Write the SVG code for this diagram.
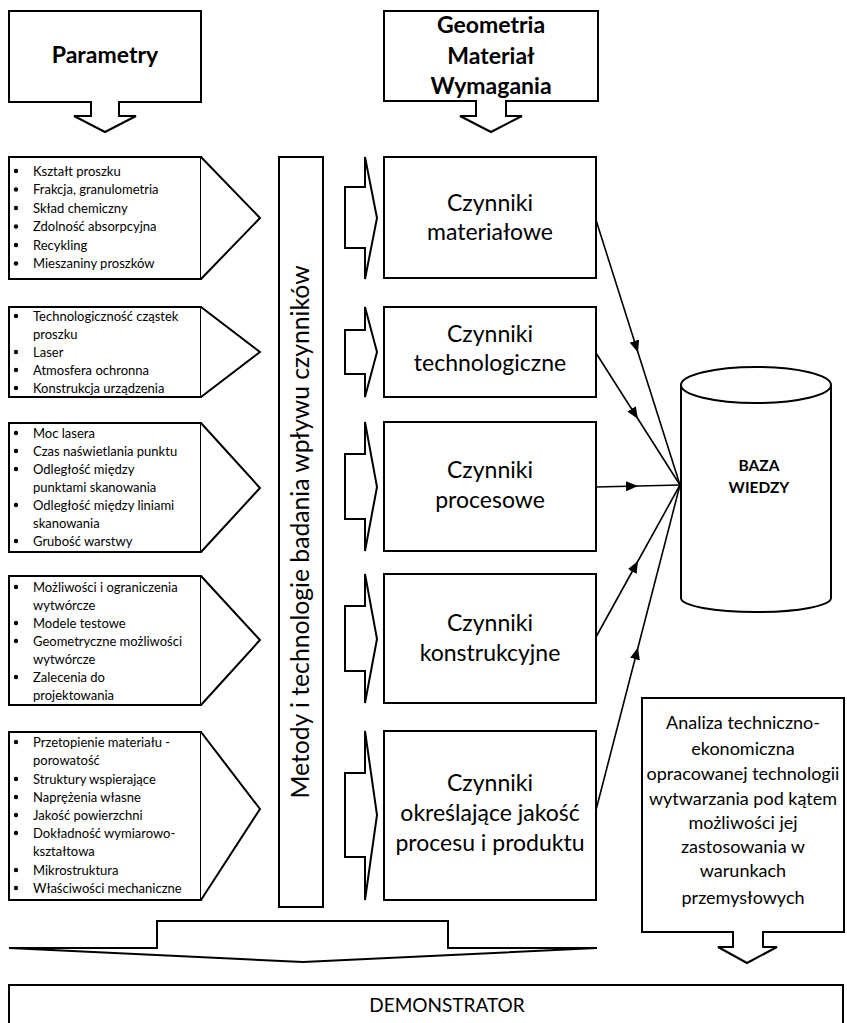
<svg xmlns="http://www.w3.org/2000/svg" width="847" height="1023" viewBox="0 0 847 1023">
<defs>
<marker id="ah" markerUnits="userSpaceOnUse" markerWidth="14" markerHeight="10" refX="12" refY="5" orient="auto"><path d="M0,0 L12,5 L0,10 z" fill="#000"/></marker>
</defs>
<style>
.s{fill:#fff;stroke:#000;stroke-width:2;stroke-linejoin:miter}
.b{font-family:Lato,"Noto Sans",sans-serif;font-size:13px;fill:#000}
.c{font-family:Lato,"Noto Sans",sans-serif;font-size:23px;text-anchor:middle;fill:#000}
.h{font-family:Lato,"Noto Sans",sans-serif;font-weight:bold;font-size:23px;text-anchor:middle;fill:#000}
.a{font-family:Lato,"Noto Sans",sans-serif;font-size:18px;text-anchor:middle;fill:#000}
.cn{fill:none;stroke:#000;stroke-width:1.6}
.d{fill:#000}
</style>
<rect width="847" height="1023" fill="#fff"/>

<g id="parametry">
<polygon class="s" points="9,11 201,11 201,102 119,102 119,116 136,116 105,132 74,116 91,116 91,102 9,102"/>
<text class="h" x="105" y="63">Parametry</text>
</g>

<g id="geometria">
<polygon class="s" points="384,11 598,11 598,101 506,101 506,116 522,116 491,132 460,116 476,116 476,101 384,101"/>
<text class="h" x="491" y="33">Geometria</text>
<text class="h" x="491" y="64">Materiał</text>
<text class="h" x="491" y="94">Wymagania</text>
</g>

<g id="lista1">
<rect class="s" x="9" y="157" width="192" height="122"/>
<polyline class="s" points="201,157 260,218 201,279"/>
<g class="b">
<circle class="d" cx="16" cy="171" r="2.2"/><text x="33" y="175.5">Kształt proszku</text>
<circle class="d" cx="16" cy="189.5" r="2.2"/><text x="33" y="194">Frakcja, granulometria</text>
<circle class="d" cx="16" cy="208" r="2.2"/><text x="33" y="212.5">Skład chemiczny</text>
<circle class="d" cx="16" cy="226.5" r="2.2"/><text x="33" y="231">Zdolność absorpcyjna</text>
<circle class="d" cx="16" cy="245" r="2.2"/><text x="33" y="249.5">Recykling</text>
<circle class="d" cx="16" cy="263.5" r="2.2"/><text x="33" y="268">Mieszaniny proszków</text>
</g>
</g>

<g id="lista2">
<rect class="s" x="9" y="307" width="192" height="90"/>
<polyline class="s" points="201,307 260,352 201,397"/>
<g class="b">
<circle class="d" cx="16" cy="316" r="2.2"/><text x="33" y="320.5">Technologiczność cząstek</text>
<text x="33" y="338.5">proszku</text>
<circle class="d" cx="16" cy="352" r="2.2"/><text x="33" y="356.5">Laser</text>
<circle class="d" cx="16" cy="370" r="2.2"/><text x="33" y="374.5">Atmosfera ochronna</text>
<circle class="d" cx="16" cy="388" r="2.2"/><text x="33" y="392.5">Konstrukcja urządzenia</text>
</g>
</g>

<g id="lista3">
<rect class="s" x="9" y="423" width="192" height="129"/>
<polyline class="s" points="201,423 260,488 201,552"/>
<g class="b">
<circle class="d" cx="16" cy="433" r="2.2"/><text x="33" y="437.5">Moc lasera</text>
<circle class="d" cx="16" cy="451" r="2.2"/><text x="33" y="455.5">Czas naświetlania punktu</text>
<circle class="d" cx="16" cy="469" r="2.2"/><text x="33" y="473.5">Odległość między</text>
<text x="33" y="491.5">punktami skanowania</text>
<circle class="d" cx="16" cy="505" r="2.2"/><text x="33" y="509.5">Odległość między liniami</text>
<text x="33" y="527.5">skanowania</text>
<circle class="d" cx="16" cy="541" r="2.2"/><text x="33" y="545.5">Grubość warstwy</text>
</g>
</g>

<g id="lista4">
<rect class="s" x="9" y="576" width="192" height="129"/>
<polyline class="s" points="201,576 260,640 201,705"/>
<g class="b">
<circle class="d" cx="16" cy="587" r="2.2"/><text x="33" y="591.5">Możliwości i ograniczenia</text>
<text x="33" y="609.5">wytwórcze</text>
<circle class="d" cx="16" cy="623" r="2.2"/><text x="33" y="627.5">Modele testowe</text>
<circle class="d" cx="16" cy="641" r="2.2"/><text x="33" y="645.5">Geometryczne możliwości</text>
<text x="33" y="663.5">wytwórcze</text>
<circle class="d" cx="16" cy="677" r="2.2"/><text x="33" y="681.5">Zalecenia do</text>
<text x="33" y="699.5">projektowania</text>
</g>
</g>

<g id="lista5">
<rect class="s" x="9" y="732" width="192" height="168"/>
<polyline class="s" points="201,732 260,809 201,900"/>
<g class="b">
<circle class="d" cx="16" cy="742" r="2.2"/><text x="33" y="746.5">Przetopienie materiału -</text>
<text x="33" y="764.5">porowatość</text>
<circle class="d" cx="16" cy="779" r="2.2"/><text x="33" y="783.5">Struktury wspierające</text>
<circle class="d" cx="16" cy="797" r="2.2"/><text x="33" y="801.5">Naprężenia własne</text>
<circle class="d" cx="16" cy="815" r="2.2"/><text x="33" y="819.5">Jakość powierzchni</text>
<circle class="d" cx="16" cy="833" r="2.2"/><text x="33" y="837.5">Dokładność wymiarowo-</text>
<text x="33" y="855.5">kształtowa</text>
<circle class="d" cx="16" cy="870" r="2.2"/><text x="33" y="874.5">Mikrostruktura</text>
<circle class="d" cx="16" cy="888" r="2.2"/><text x="33" y="892.5">Właściwości mechaniczne</text>
</g>
</g>

<g id="metody">
<rect class="s" x="279" y="157" width="44" height="750"/>
<text class="c" style="font-size:24.7px" transform="translate(309,532) rotate(-90)">Metody i technologie badania wpływu czynników</text>
</g>

<g id="strzalki">
<polygon class="s" points="345,187 365,187 365,157 377,218 365,279 365,248 345,248"/>
<polygon class="s" points="345,330 365,330 365,307 377,352 365,397 365,374 345,374"/>
<polygon class="s" points="345,454 365,454 365,422 377,487 365,551 365,519 345,519"/>
<polygon class="s" points="345,606 365,606 365,574 377,639 365,703 365,671 345,671"/>
<polygon class="s" points="345,773 365,773 365,731 377,815 365,900 365,857 345,857"/>
</g>

<g id="czynniki-materialowe">
<rect class="s" x="384" y="157" width="212" height="121"/>
<text class="c" x="490" y="211">Czynniki</text>
<text class="c" x="490" y="240">materiałowe</text>
</g>
<g id="czynniki-technologiczne">
<rect class="s" x="384" y="307" width="212" height="90"/>
<text class="c" x="490" y="342">Czynniki</text>
<text class="c" x="490" y="371">technologiczne</text>
</g>
<g id="czynniki-procesowe">
<rect class="s" x="384" y="422" width="212" height="129"/>
<text class="c" x="490" y="478">Czynniki</text>
<text class="c" x="490" y="508">procesowe</text>
</g>
<g id="czynniki-konstrukcyjne">
<rect class="s" x="384" y="574" width="212" height="129"/>
<text class="c" x="490" y="631">Czynniki</text>
<text class="c" x="490" y="661">konstrukcyjne</text>
</g>
<g id="czynniki-jakosc">
<rect class="s" x="384" y="731" width="212" height="169"/>
<text class="c" x="490" y="791">Czynniki</text>
<text class="c" x="490" y="821">określające jakość</text>
<text class="c" x="490" y="851">procesu i produktu</text>
</g>

<g id="baza">
<path class="s" d="M681,385 L681,598 A75,14 0 0 0 831,598 L831,385"/>
<ellipse class="s" cx="756" cy="385" rx="75" ry="18"/>
<text class="h" style="font-size:15.5px" x="759" y="471">BAZA</text>
<text class="h" style="font-size:15.5px" x="759" y="493">WIEDZY</text>
</g>

<g id="connectors">
<path class="cn" marker-mid="url(#ah)" d="M596,220 L638,352.5 L680,485"/>
<path class="cn" marker-mid="url(#ah)" d="M596,353 L638,419 L680,485"/>
<path class="cn" marker-mid="url(#ah)" d="M596,487 L638,486 L680,485"/>
<path class="cn" marker-mid="url(#ah)" d="M596,637 L638,561 L680,485"/>
<path class="cn" marker-mid="url(#ah)" d="M596,810 L638,647.5 L680,485"/>
</g>

<g id="analiza">
<polygon class="s" points="642,698 844,698 844,932 763,932 763,947 777,947 747,963 718,947 733,947 733,932 642,932"/>
<text class="a" x="743" y="729">Analiza techniczno-</text>
<text class="a" x="743" y="755">ekonomiczna</text>
<text class="a" x="743" y="780">opracowanej technologii</text>
<text class="a" x="743" y="805">wytwarzania pod kątem</text>
<text class="a" x="743" y="829">możliwości jej</text>
<text class="a" x="743" y="853">zastosowania w</text>
<text class="a" x="743" y="877">warunkach</text>
<text class="a" x="743" y="904">przemysłowych</text>
</g>

<g id="strzalka-dolna">
<polygon class="s" points="9,948 157,948 157,921 448,921 448,948 597,948 303,962"/>
</g>

<g id="demonstrator">
<rect class="s" x="9" y="985" width="834" height="60"/>
<text class="c" style="font-size:19px" x="447" y="1012">DEMONSTRATOR</text>
</g>
</svg>
